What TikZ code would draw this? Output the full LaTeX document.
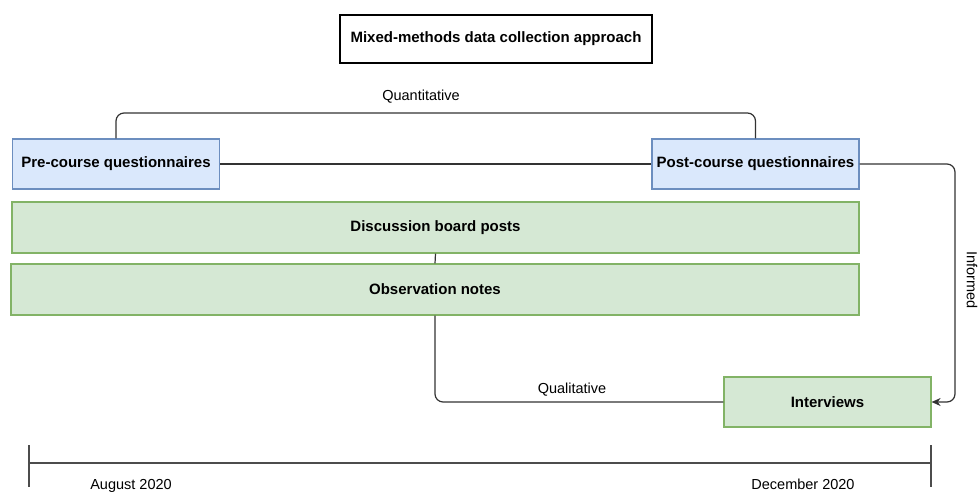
\documentclass[tikz,border=0pt]{standalone}
\usepackage{fontspec}
\setmainfont{Liberation Sans}
\definecolor{qblue}{HTML}{DAE8FC}
\definecolor{qblueline}{HTML}{6C8EBF}
\definecolor{qgreen}{HTML}{D5E8D4}
\definecolor{qgreenline}{HTML}{82B366}
\usetikzlibrary{arrows.meta,positioning}

\begin{document}
\begin{tikzpicture}[x=1pt,y=-1pt,
  quantbox/.style={draw=qblueline,fill=qblue,line width=1.2pt,minimum width=207pt,
    minimum height=50pt,inner sep=0pt,font=\fontsize{15}{17}\selectfont\bfseries},
  qualbox/.style={draw=qgreenline,fill=qgreen,line width=1.2pt,minimum height=51pt,
    inner sep=0pt,font=\fontsize{15}{17}\selectfont\bfseries},
  lbl/.style={font=\fontsize{14.5}{17}\selectfont,inner sep=1pt},
  link/.style={draw=black!80,line width=1.2pt,rounded corners=8pt}
]
  \useasboundingbox (0,0) rectangle (978,495);

  % Title
  \node[draw,line width=2pt,minimum width=312pt,minimum height=48pt,
    font=\fontsize{15}{17}\selectfont\bfseries] (title) at (496,39)
    {Mixed-methods data collection approach};

  % Quantitative: questionnaires
  \node[quantbox] (pre) at (116,164) {Pre-course questionnaires};
  \node[quantbox] (post) at (755.5,164) {Post-course questionnaires};
  \coordinate (qtop) at (435,113);
  \draw[link] (pre.north) -- (pre.north |- qtop) -- (post.north |- qtop) -- (post.north);
  \node[lbl] (quant) at (421,97) {Quantitative};
  \draw[link] (pre.east) -- (post.west);

  % Qualitative: posts, notes, interviews
  \node[qualbox,minimum width=847pt] (disc) at (435.5,227.5) {Discussion board posts};
  \node[qualbox,minimum width=848pt] (obs) at (435,289.5) {Observation notes};
  \node[qualbox,minimum width=207pt,minimum height=50pt] (intv) at (827.5,402) {Interviews};
  \draw[link] (disc.south) -- (obs.north);
  \draw[link] (obs.south) |- (intv.west);
  \node[lbl] (qual) at (572,390) {Qualitative};

  % Informed
  \coordinate (bend) at (955,300);
  \draw[link,-{Stealth[length=9pt,width=8pt]}] (post.east) -- (bend |- post.east)
    -- (bend |- intv.east) -- (intv.east);
  \node[lbl,rotate=-90] (inf) at (972,280) {Informed};

  % Timeline
  \coordinate (tstart) at (29,463);
  \coordinate (tend) at (931,463);
  \draw[black!70,line width=2pt] (tstart) -- (tend);
  \draw[black!70,line width=1.2pt] (tstart) ++(0,-18) -- ++(0,42);
  \draw[black!70,line width=1.2pt] (tend) ++(0,-18) -- ++(0,42);
  \node[lbl] (aug) at (131,486) {August 2020};
  \node[lbl] (dec) at (803,484) {December 2020};
\end{tikzpicture}
\end{document}
